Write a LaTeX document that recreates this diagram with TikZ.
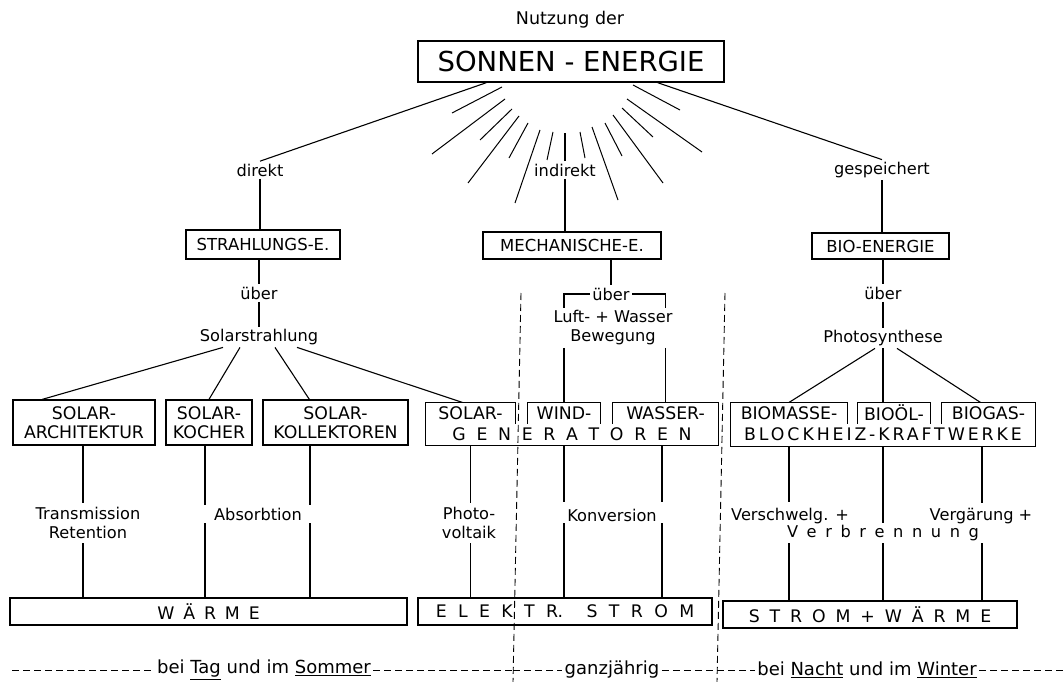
\documentclass[tikz,border=0pt]{standalone}
\usepackage{fontspec}
\setmainfont{DejaVu Sans}
\begin{document}
\begin{tikzpicture}[x=1pt,y=-1pt,line width=1.1pt,
  lbl/.style={font=\fontsize{16.2}{19}\selectfont,align=center,inner sep=2pt},
  hbox/.style={draw,line width=1.3pt,font=\fontsize{16.5}{19}\selectfont,inner sep=0pt},
  sbox/.style={draw,line width=1.3pt,font=\fontsize{17.3}{19}\selectfont,align=center,inner sep=0pt,minimum height=45pt},
  tab/.style={font=\fontsize{17.3}{19}\selectfont,inner sep=0pt,minimum height=20pt},
  spaced/.style={font={\fontsize{17.3}{19}\selectfont\spaceskip=#1\relax}},
  wbox/.style={draw,line width=1.3pt,inner sep=0pt,minimum height=27pt},
  divider/.style={dash pattern=on 7pt off 4pt,line width=0.9pt}]
\useasboundingbox (0,0) rectangle (1063,682);
\node[lbl,font=\fontsize{17.5}{19}\selectfont] (nutzung) at (570,20) {Nutzung der};
\node[draw,line width=1.4pt,minimum width=306pt,minimum height=41pt,inner sep=0pt,font=\fontsize{27.5}{30}\selectfont] (sonne) at (571,61.5) {SONNEN - ENERGIE};
\node[lbl] (direkt) at (260,170) {direkt};
\node[lbl] (indirekt) at (565,170) {indirekt};
\node[lbl] (gespeich) at (882,170) {gespeichert};
\draw ([xshift=69pt]sonne.south west) -- (direkt.north);
\draw ([xshift=-67pt]sonne.south east) -- (gespeich.north);
\foreach \a/\b/\c/\d in {452/113/502/87, 432/154/505/99, 480/140/512/109, 468/183/519/116, 509/158/528/123, 515/203/540/130, 547/160/553/132,
  633/85/680/110, 627/99/702/152, 622/108/653/137, 613/115/663/183, 605/123/622/156, 592/127/618/200, 580/132/585/158}
  \draw[line width=1pt] (\a,\b) -- (\c,\d);
\draw (indirekt.north) -- ++(0,-28);
\node[hbox,minimum width=154pt,minimum height=29pt] (strahl) at (263,244.5) {STRAHLUNGS-E.};
\node[hbox,minimum width=178pt,minimum height=27pt] (mech) at (572,245.5) {MECHANISCHE-E.};
\node[hbox,minimum width=137pt,minimum height=26pt] (bioen) at (880.5,246) {BIO-ENERGIE};
\draw (direkt.south) -- (direkt.south |- strahl.north);
\draw (indirekt.south) -- (indirekt.south |- mech.north);
\draw (gespeich.south) -- (gespeich.south |- bioen.north);
\node[lbl] (ueberl) at (259,293) {über};
\node[lbl] (solstr) at (259,337) {Solarstrahlung};
\draw (strahl.south -| ueberl) -- (ueberl.north);
\draw (ueberl.south) -- (solstr.north);
\node[lbl] (ueberm) at (611,294) {über};
\node[lbl] (luft) at (613,328) {Luft- + Wasser\\Bewegung};
\node[lbl] (ueberr) at (883,293) {über};
\node[lbl] (photo) at (883,338) {Photosynthese};
\draw (bioen.south -| ueberr) -- (ueberr.north);
\draw (ueberr.south) -- (photo.north);
\node[sbox,minimum width=142pt] (solarch) at (84,422.5) {SOLAR-\\ARCHITEKTUR};
\node[sbox,minimum width=86pt] (solkoch) at (209,422.5) {SOLAR-\\KOCHER};
\node[sbox,minimum width=145pt] (solkoll) at (335.5,422.5) {SOLAR-\\KOLLEKTOREN};
\node[tab,minimum width=89pt] (solgen) at (470.5,413) {SOLAR-};
\node[tab,minimum width=72pt] (windgen) at (564,413) {WIND-};
\node[tab,minimum width=105pt] (wassgen) at (665.5,413) {WASSER-};
\node[tab,spaced=10.7pt,minimum width=292pt,minimum height=22pt] (gener) at (572,434) {G E N E R A T O R E N};
\draw[line width=1.3pt] (solgen.south east) |- (solgen.north west) -- (gener.south west) -| (wassgen.north east) -- (wassgen.north west) -- (wassgen.south west);
\draw[line width=1.3pt] (windgen.south west) |- (windgen.north east) -- (windgen.south east);
\node[tab,minimum width=116pt] (biomasse) at (789,413) {BIOMASSE-};
\node[tab,minimum width=72pt] (biooel) at (894,413) {BIOÖL-};
\node[tab,minimum width=93pt] (biogas) at (988.5,413) {BIOGAS-};
\node[tab,font=\fontsize{17.3}{19}\selectfont\addfontfeature{LetterSpace=17},minimum width=304pt,minimum height=23pt] (bhkw) at (883,434.5) {BLOCKHEIZ-KRAFTWERKE};
\draw[line width=1.3pt] (biomasse.south east) |- (biomasse.north west) -- (bhkw.south west) -| (biogas.north east) -- (biogas.north west) -- (biogas.south west);
\draw[line width=1.3pt] (biooel.south west) |- (biooel.north east) -- (biooel.south east);
\draw ([xshift=-36pt]solstr.south) -- ([xshift=30pt]solarch.north west);
\draw ([xshift=-19pt]solstr.south) -- (solkoch.north);
\draw ([xshift=16pt]solstr.south) -- ([xshift=47pt]solkoll.north west);
\draw ([xshift=38pt]solstr.south) -- ([xshift=37pt]solgen.north west);
\draw (mech.south -| ueberm) -- (ueberm.north);
\draw (ueberm.west) -| (windgen.north |- luft.north);
\draw (ueberm.east) -| (wassgen.north |- luft.north);
\draw (luft.south -| windgen.north) -- (windgen.north);
\draw (luft.south -| wassgen.north) -- (wassgen.north);
\draw ([xshift=-8pt]photo.south) -- (biomasse.north);
\draw (photo.south) -- (photo.south |- biooel.north);
\draw ([xshift=14pt]photo.south) -- ([xshift=-8pt]biogas.north);
\node[lbl] (transm) at (88,523) {Transmission\\Retention};
\node[lbl] (absorb) at (258,514) {Absorbtion};
\node[lbl] (photov) at (469,523) {Photo-\\voltaik};
\node[lbl] (konv) at (612,515) {Konversion};
\node[lbl] (verschw) at (790,516) {Verschwelg. +};
\node[lbl] (vergaer) at (981,516) {Vergärung +};
\node[lbl,font={\fontsize{16.2}{19}\selectfont\spaceskip=8.6pt\relax}] (verbr) at (883,533) {V e r b r e n n u n g};
\node[wbox,spaced=8.9pt,minimum width=397pt] (waerme) at (208.5,611.5) {W Ä R M E};
\node[wbox,spaced=11.4pt,minimum width=294pt] (strom) at (565,611.5) {E L E K T R.\hspace{12pt} S T R O M};
\node[wbox,spaced=9.9pt,minimum width=294pt] (stromw) at (870,614.5) {S T R O M + W Ä R M E};
\foreach \x/\t/\b/\p/\q in {83/solarch/waerme/503/543, 205/solkoch/waerme/505/523, 310/solkoll/waerme/505/523,
  470.5/gener/strom/503/543, 564/gener/strom/502/523, 662/gener/strom/502/523,
  789/bhkw/stromw/502/543, 883/bhkw/stromw/523/543, 982/bhkw/stromw/503/543}
  {\draw (\t.south -| \x,0) -- (\x,\p); \draw (\x,\q) -- (\b.north -| \x,0);}
\coordinate (lt) at (521,293); \coordinate (lb) at (513,682);
\coordinate (rt) at (725,293); \coordinate (rb) at (717,682);
\coordinate (lm) at (513.2,670); \coordinate (rm) at (717.2,670);
\draw[divider] (lt) -- (lb); \draw[divider] (rt) -- (rb);
\node[lbl,font=\fontsize{18}{20}\selectfont] (tag) at (264,670) {bei \underline{Tag} und im \underline{Sommer}};
\node[lbl,font=\fontsize{18}{20}\selectfont] (ganz) at (612,670) {ganzjährig};
\node[lbl,font=\fontsize{18}{20}\selectfont] (nacht) at (867,670) {bei \underline{Nacht} und im \underline{Winter}};
\draw[divider] (12,670) -- (tag.west); \draw[divider] (tag.east) -- (lm);
\draw[divider] (lm) -- (ganz.west); \draw[divider] (ganz.east) -- (rm);
\draw[divider] (rm) -- (nacht.west); \draw[divider] (nacht.east) -- (1063,670);
\end{tikzpicture}
\end{document}
